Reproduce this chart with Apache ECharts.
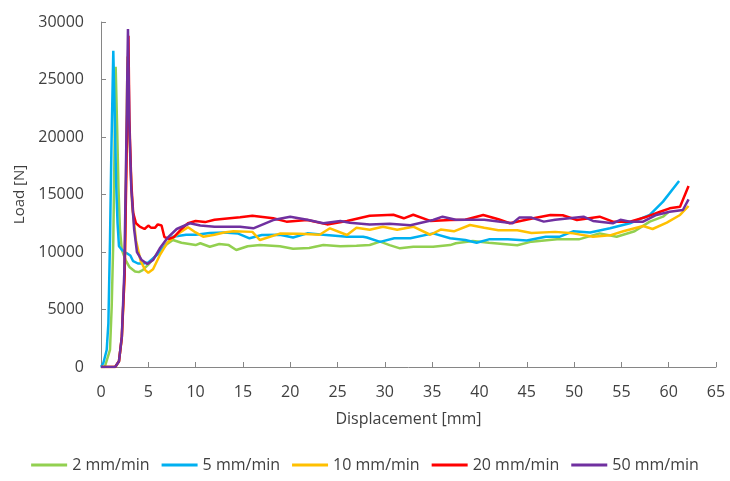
<!DOCTYPE html>
<html>
<head>
<meta charset="utf-8">
<script src="https://cdn.jsdelivr.net/npm/echarts@6/dist/echarts.min.js"></script>
<style>html,body{margin:0;padding:0;background:#fff}#c{width:730px;height:481px}</style>
</head>
<body>
<div id="c"></div>
<script>
const seriesNames = ['2 mm/min', '5 mm/min', '10 mm/min', '20 mm/min', '50 mm/min'];
const xTicks = [0, 5, 10, 15, 20, 25, 30, 35, 40, 45, 50, 55, 60, 65];
const yTicks = [0, 5000, 10000, 15000, 20000, 25000, 30000];

// 2 mm/min
const disp2 = [0,0.4,0.95,1.13,1.3,1.55,1.7,1.85,2.0,2.2,2.6,3.0,3.6,4.0,4.4,5,6,7,7.6,8.5,10,10.5,11.5,12.5,13.5,14.3,15.5,16.8,18.9,20.3,22,23.5,25.3,27,28.4,29.5,30.5,31.6,33,35.1,36.9,37.5,39.3,41,44,45.5,48.2,50.5,52.7,54.5,56.4,58,59.4,60];
const load2 = [0,0,1480,5240,11000,26100,21000,15500,12000,10200,9300,8700,8300,8250,8430,8900,9900,10700,11040,10800,10600,10760,10460,10700,10600,10170,10500,10600,10500,10280,10350,10610,10500,10550,10610,10900,10600,10320,10450,10450,10600,10760,10960,10800,10580,10900,11100,11100,11620,11330,11800,12640,13070,13500];

// 5 mm/min
const disp5 = [0,0.25,0.6,0.78,0.95,1.1,1.3,1.45,1.6,1.75,1.9,2.2,2.7,3.1,3.4,3.9,4.5,5,6,7,7.6,9,10,11.5,13,14.5,15.7,17,18.9,20.3,21.8,23.5,26,27.7,28.1,29.5,31,32.7,35.1,36.9,38.5,39.7,41,43,45,47,48.5,49.9,51.7,53.8,55.9,58,59.4,61.1];
const load5 = [0,350,1480,3800,11000,19000,27500,22000,16000,12500,10500,10200,9900,9700,9200,9000,9000,9100,9800,10800,11330,11500,11500,11650,11700,11600,11190,11480,11500,11260,11620,11500,11330,11330,11260,10880,11200,11190,11620,11190,11050,10810,11100,11100,11000,11330,11330,11800,11700,12060,12500,13220,14380,16170];

// 10 mm/min
const disp10 = [0,1.5,1.9,2.2,2.5,2.65,2.8,3.0,3.3,3.7,4.2,4.7,5.0,5.5,6.2,7,8,9.2,10,10.8,12,13,14,16,16.8,18.9,21,23.1,24.2,26,27,28.4,29.8,31.3,33,34.8,35.9,37.3,39,40.5,42,44,45.5,48,49.9,52,53.8,55.2,57.3,58.3,59.8,61.2,62.1];
const load10 = [0,0,500,2500,8000,17000,27000,20000,14000,11000,9200,8400,8200,8500,9700,10800,11500,12150,11700,11330,11500,11700,11800,11750,11040,11600,11580,11500,12060,11480,12100,11930,12200,11930,12200,11500,11950,11800,12350,12100,11900,11900,11650,11750,11620,11330,11450,11800,12260,12000,12550,13220,14000];

// 20 mm/min
const disp20 = [0,1.5,1.9,2.2,2.5,2.7,2.9,3.0,3.2,3.4,3.7,4.1,4.6,5.0,5.3,5.7,6.0,6.4,6.7,7.2,7.7,8.5,9.2,10,11,12,13.6,14.7,16,18.2,19.6,21.8,23.9,26,28.4,30.9,32,33,34.8,36.9,38.5,40.4,42,43.2,45.7,47.5,48.8,50.3,52.7,54.1,55.9,57.7,59.1,60.1,61.2,62.1];
const load20 = [0,0,500,2600,8100,18000,28800,21500,16000,13400,12500,12200,12000,12300,12100,12100,12400,12300,11300,11150,11300,12000,12500,12700,12600,12800,12930,13020,13160,12930,12640,12780,12400,12700,13160,13240,12930,13240,12700,12780,12800,13220,12850,12500,12930,13220,13200,12780,13070,12640,12640,13070,13500,13800,13940,15740];

// 50 mm/min
const disp50 = [0,1.5,1.9,2.2,2.46,2.65,2.85,3.0,3.2,3.5,3.8,4.3,4.9,5.5,6.2,7,8,9.4,10.5,12,14.7,16.1,18.2,20,21.8,23.5,25.3,26.3,28.4,30.5,32.7,35.1,36.1,37.5,39,40.5,43.5,44.2,45.5,46.8,48,51,52,54.1,54.9,55.9,57.3,58.7,60.1,61.5,62.1];
const load50 = [0,0,500,2640,8150,18000,29400,21000,15500,12000,10000,9300,8950,9300,10300,11200,12000,12500,12300,12200,12200,12060,12780,13070,12800,12500,12700,12550,12400,12450,12330,12780,13070,12800,12800,12800,12500,12990,12990,12640,12800,13070,12700,12500,12800,12640,12640,13220,13500,13650,14580];

const colors = ['#92D050', '#00B0F0', '#FFC000', '#FF0000', '#7030A0'];
const dispArrays = [disp2, disp5, disp10, disp20, disp50];
const loadArrays = [load2, load5, load10, load20, load50];

const zip = (a, b) => a.map((v, i) => [v, b[i]]);
const font = '"Open Sans", sans-serif';

const chart = echarts.init(document.getElementById('c'), null, {renderer: 'canvas'});
chart.setOption({
  animation: false,
  backgroundColor: '#ffffff',
  grid: {left: 101, right: 14, top: 22, bottom: 114, containLabel: false},
  legend: {
    bottom: 3,
    left: 'center',
    icon: 'rect',
    itemWidth: 36,
    itemHeight: 3,
    itemGap: 12,
    textStyle: {color: '#404040', fontSize: 16, fontFamily: font},
    data: seriesNames
  },
  xAxis: {
    type: 'value',
    min: xTicks[0], max: xTicks[xTicks.length - 1], interval: 5,
    name: 'Displacement [mm]',
    nameLocation: 'middle',
    nameGap: 44,
    nameTextStyle: {color: '#404040', fontSize: 16, fontFamily: font},
    axisLine: {show: true, lineStyle: {color: '#868686', width: 1}},
    axisTick: {show: true, inside: true, length: 5, lineStyle: {color: '#868686'}},
    axisLabel: {color: '#404040', fontSize: 16, fontFamily: font, margin: 17},
    splitLine: {show: false}
  },
  yAxis: {
    type: 'value',
    min: yTicks[0], max: yTicks[yTicks.length - 1], interval: 5000,
    name: 'Load [N]',
    nameLocation: 'middle',
    nameGap: 72,
    nameTextStyle: {color: '#404040', fontSize: 15, fontFamily: font},
    axisLine: {show: true, lineStyle: {color: '#868686', width: 1}},
    axisTick: {show: true, inside: true, length: 5, lineStyle: {color: '#868686'}},
    axisLabel: {color: '#404040', fontSize: 16, fontFamily: font, margin: 17, formatter: v => String(v)},
    splitLine: {show: false}
  },
  series: seriesNames.map((n, i) => ({
    name: n,
    type: 'line',
    data: zip(dispArrays[i], loadArrays[i]),
    showSymbol: false,
    symbol: 'none',
    smooth: false,
    color: colors[i],
    lineStyle: {color: colors[i], width: 2.5}
  }))
});
</script>
</body>
</html>
